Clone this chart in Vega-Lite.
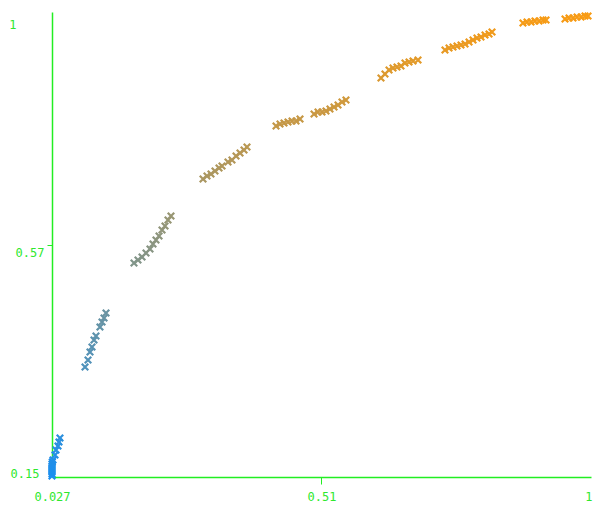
{
  "$schema": "https://vega.github.io/schema/vega-lite/v6.json",
  "width": 539,
  "height": 465,
  "autosize": {"type": "none"},
  "padding": {"left": 52, "top": 12, "right": 3, "bottom": 29},
  "background": "white",
  "config": {"view": {"stroke": null}},
  "data": {
    "values": [
      {"x": 0.0270, "y": 0.1518}, {"x": 0.0270, "y": 0.1555}, {"x": 0.0270, "y": 0.1591}, {"x": 0.0270, "y": 0.1628},
      {"x": 0.0270, "y": 0.1665}, {"x": 0.0270, "y": 0.1700}, {"x": 0.0270, "y": 0.1738}, {"x": 0.0275, "y": 0.1775},
      {"x": 0.0288, "y": 0.1811}, {"x": 0.0324, "y": 0.1902}, {"x": 0.0342, "y": 0.1994}, {"x": 0.0378, "y": 0.2067},
      {"x": 0.0396, "y": 0.2140}, {"x": 0.0414, "y": 0.2213},
      {"x": 0.0866, "y": 0.3511}, {"x": 0.0920, "y": 0.3639}, {"x": 0.0956, "y": 0.3785}, {"x": 0.0992, "y": 0.3876},
      {"x": 0.1028, "y": 0.4004}, {"x": 0.1064, "y": 0.4077}, {"x": 0.1136, "y": 0.4242}, {"x": 0.1173, "y": 0.4333},
      {"x": 0.1209, "y": 0.4407}, {"x": 0.1245, "y": 0.4498},
      {"x": 0.1750, "y": 0.5412}, {"x": 0.1822, "y": 0.5467}, {"x": 0.1895, "y": 0.5522}, {"x": 0.1967, "y": 0.5595},
      {"x": 0.2039, "y": 0.5668}, {"x": 0.2093, "y": 0.5759}, {"x": 0.2147, "y": 0.5832}, {"x": 0.2202, "y": 0.5906},
      {"x": 0.2256, "y": 0.6015}, {"x": 0.2310, "y": 0.6088}, {"x": 0.2364, "y": 0.6198}, {"x": 0.2418, "y": 0.6271},
      {"x": 0.2996, "y": 0.6947}, {"x": 0.3068, "y": 0.7002}, {"x": 0.3140, "y": 0.7039}, {"x": 0.3212, "y": 0.7094},
      {"x": 0.3285, "y": 0.7149}, {"x": 0.3339, "y": 0.7185}, {"x": 0.3447, "y": 0.7258}, {"x": 0.3519, "y": 0.7295},
      {"x": 0.3592, "y": 0.7368}, {"x": 0.3664, "y": 0.7423}, {"x": 0.3736, "y": 0.7478}, {"x": 0.3790, "y": 0.7532},
      {"x": 0.4314, "y": 0.7916}, {"x": 0.4386, "y": 0.7953}, {"x": 0.4458, "y": 0.7971}, {"x": 0.4530, "y": 0.7989},
      {"x": 0.4603, "y": 0.8008}, {"x": 0.4675, "y": 0.8008}, {"x": 0.4747, "y": 0.8044},
      {"x": 0.5000, "y": 0.8136}, {"x": 0.5072, "y": 0.8172}, {"x": 0.5144, "y": 0.8172}, {"x": 0.5216, "y": 0.8191},
      {"x": 0.5288, "y": 0.8227}, {"x": 0.5361, "y": 0.8264}, {"x": 0.5433, "y": 0.8300}, {"x": 0.5505, "y": 0.8355},
      {"x": 0.5577, "y": 0.8392},
      {"x": 0.6209, "y": 0.8794}, {"x": 0.6281, "y": 0.8867}, {"x": 0.6354, "y": 0.8940}, {"x": 0.6426, "y": 0.8977},
      {"x": 0.6498, "y": 0.8995}, {"x": 0.6570, "y": 0.9013}, {"x": 0.6642, "y": 0.9068}, {"x": 0.6715, "y": 0.9086},
      {"x": 0.6787, "y": 0.9104}, {"x": 0.6877, "y": 0.9123},
      {"x": 0.7364, "y": 0.9306}, {"x": 0.7437, "y": 0.9342}, {"x": 0.7509, "y": 0.9360}, {"x": 0.7581, "y": 0.9379},
      {"x": 0.7653, "y": 0.9397}, {"x": 0.7726, "y": 0.9415}, {"x": 0.7798, "y": 0.9452}, {"x": 0.7870, "y": 0.9489},
      {"x": 0.7942, "y": 0.9525}, {"x": 0.8014, "y": 0.9543}, {"x": 0.8087, "y": 0.9580}, {"x": 0.8159, "y": 0.9598},
      {"x": 0.8213, "y": 0.9635},
      {"x": 0.8772, "y": 0.9799}, {"x": 0.8845, "y": 0.9817}, {"x": 0.8917, "y": 0.9817}, {"x": 0.8989, "y": 0.9836},
      {"x": 0.9061, "y": 0.9836}, {"x": 0.9134, "y": 0.9854}, {"x": 0.9188, "y": 0.9854},
      {"x": 0.9531, "y": 0.9872}, {"x": 0.9603, "y": 0.9891}, {"x": 0.9675, "y": 0.9891}, {"x": 0.9748, "y": 0.9909},
      {"x": 0.9820, "y": 0.9909}, {"x": 0.9892, "y": 0.9927}, {"x": 0.9946, "y": 0.9927}
    ]
  },
  "mark": {
    "type": "point",
    "shape": "M-1,-1L1,1M-1,1L1,-1",
    "filled": false,
    "strokeWidth": 2.2,
    "size": 42,
    "opacity": 1,
    "clip": false
  },
  "encoding": {
    "x": {
      "field": "x",
      "type": "quantitative",
      "scale": {"domain": [0.027, 1], "nice": false, "zero": false},
      "axis": {
        "title": null,
        "grid": false,
        "values": [0.027, 0.5135, 1],
        "labelExpr": "datum.value == 0.5135 ? '0.51' : datum.value == 1 ? '1' : '0.027'",
        "labelFont": "DejaVu Sans Mono",
        "labelFontSize": 12,
        "labelColor": "#2ee82e",
        "labelFlush": false,
        "labelOverlap": false,
        "labelAlign": {"condition": {"test": "datum.value == 1", "value": "right"}, "value": "center"},
        "labelOffset": {"condition": {"test": "datum.value == 1", "value": 1}, "value": 0},
        "labelPadding": 7,
        "domainColor": "#22ee22",
        "domainWidth": 1.5,
        "tickColor": "#22ee22",
        "tickSize": 7,
        "tickOpacity": {"condition": {"test": "datum.value == 0.5135", "value": 1}, "value": 0}
      }
    },
    "y": {
      "field": "y",
      "type": "quantitative",
      "scale": {"domain": [0.15, 1], "nice": false, "zero": false},
      "axis": {
        "title": null,
        "grid": false,
        "values": [0.15, 0.575, 1],
        "labelExpr": "datum.value == 0.575 ? '0.57' : datum.value == 1 ? '1' : '0.15'",
        "labelFont": "DejaVu Sans Mono",
        "labelFontSize": 12,
        "labelColor": "#2ee82e",
        "labelFlush": false,
        "labelOverlap": false,
        "labelBaseline": {"condition": {"test": "datum.value == 0.15", "value": "bottom"}, "value": "top"},
        "labelOffset": {"condition": {"test": "datum.value == 1", "value": 7}, "value": 3},
        "labelPadding": {"condition": [
          {"test": "datum.value == 1", "value": 31},
          {"test": "datum.value == 0.15", "value": 8}
        ], "value": 3},
        "domainColor": "#22ee22",
        "domainWidth": 1.5,
        "tickColor": "#22ee22",
        "tickSize": 5,
        "tickOpacity": {"condition": {"test": "datum.value == 0.575", "value": 1}, "value": 0}
      }
    },
    "color": {
      "field": "y",
      "type": "quantitative",
      "scale": {"domain": [0.15, 1], "range": ["#1a8ff0", "#fa9b12"], "interpolate": "rgb"},
      "legend": null
    }
  }
}
